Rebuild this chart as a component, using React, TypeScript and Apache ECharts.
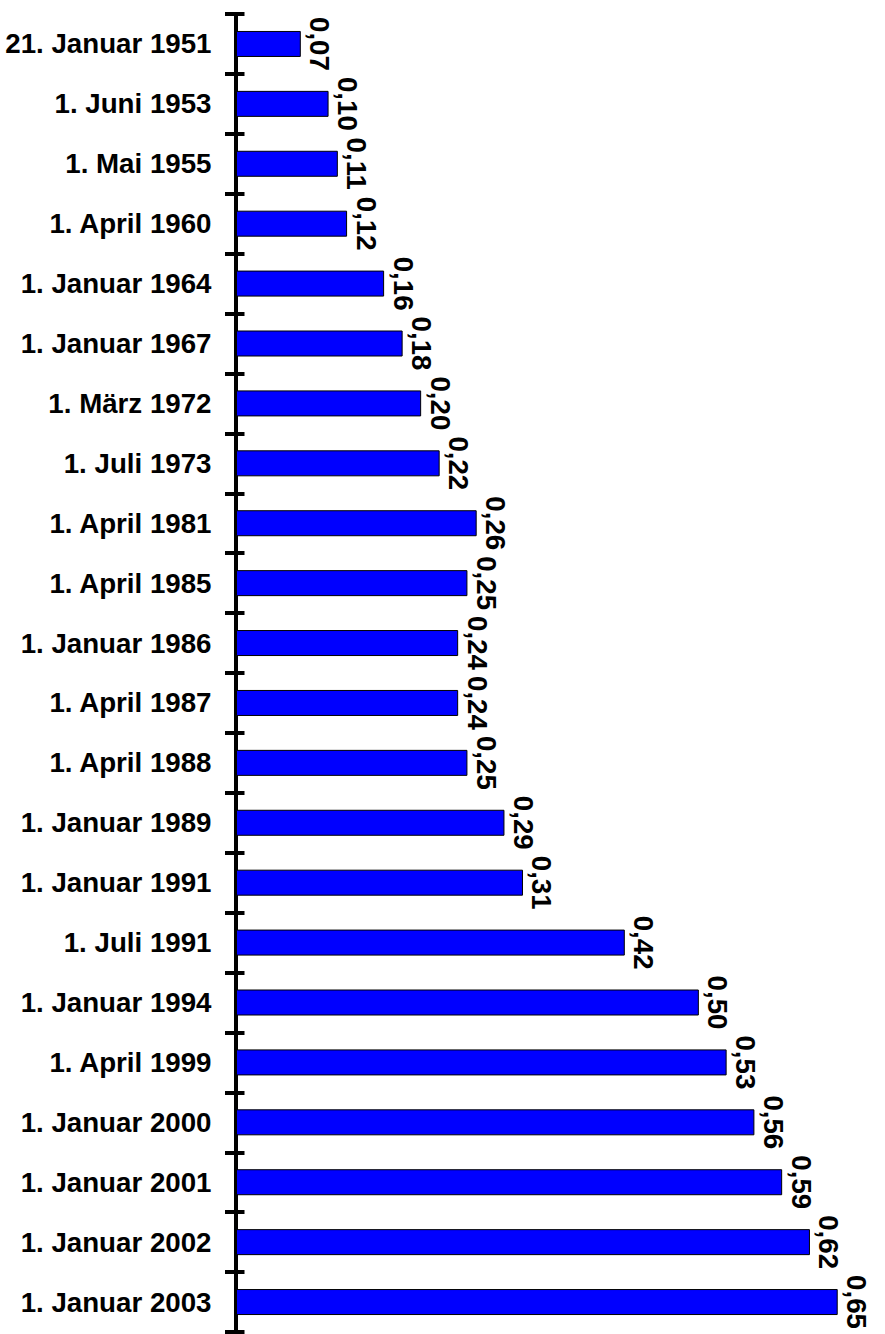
import React, { useEffect, useRef } from "react";
import * as echarts from "echarts";

const categories = [
  "21. Januar 1951",
  "1. Juni 1953",
  "1. Mai 1955",
  "1. April 1960",
  "1. Januar 1964",
  "1. Januar 1967",
  "1. März 1972",
  "1. Juli 1973",
  "1. April 1981",
  "1. April 1985",
  "1. Januar 1986",
  "1. April 1987",
  "1. April 1988",
  "1. Januar 1989",
  "1. Januar 1991",
  "1. Juli 1991",
  "1. Januar 1994",
  "1. April 1999",
  "1. Januar 2000",
  "1. Januar 2001",
  "1. Januar 2002",
  "1. Januar 2003",
];

const values = [
  0.07, 0.1, 0.11, 0.12, 0.16, 0.18, 0.2, 0.22, 0.26, 0.25, 0.24, 0.24, 0.25,
  0.29, 0.31, 0.42, 0.5, 0.53, 0.56, 0.59, 0.62, 0.65,
];

const FONT = "'Liberation Sans', Arial, Helvetica, sans-serif";

export default function App() {
  const ref = useRef<HTMLDivElement>(null);
  useEffect(() => {
    if (!ref.current) return;
    const chart = echarts.init(ref.current, null, { renderer: "svg" });
    const tickStyle = { color: "#000", width: 4 };
    chart.setOption({
      animation: false,
      backgroundColor: "#fff",
      grid: { left: 236, right: 1, top: 14, bottom: 2, containLabel: false },
      xAxis: {
        type: "value",
        min: 0,
        max: 0.7,
        show: false,
      },
      yAxis: [
        {
          type: "category",
          data: categories,
          inverse: true,
          offset: 2.5,
          axisLine: { show: true, lineStyle: { color: "#000", width: 4 } },
          axisTick: { show: true, length: 11, lineStyle: tickStyle },
          axisLabel: {
            fontSize: 27.7,
            fontWeight: "bold",
            color: "#000",
            fontFamily: FONT,
            margin: 22,
          },
          splitLine: { show: false },
        },
        {
          type: "category",
          data: categories,
          inverse: true,
          position: "left",
          offset: 2.5,
          axisLine: { show: false },
          axisTick: { show: true, inside: true, length: 11, lineStyle: tickStyle },
          axisLabel: { show: false },
          splitLine: { show: false },
        },
      ],
      series: [
        {
          type: "bar",
          yAxisIndex: 0,
          data: values,
          barWidth: 26,
          itemStyle: { color: "#0000ff", borderColor: "#000", borderWidth: 1 },
          label: {
            show: true,
            position: "right",
            distance: 5,
            rotate: -90,
            align: "center",
            verticalAlign: "bottom",
            fontSize: 27.7,
            fontWeight: "bold",
            color: "#000",
            fontFamily: FONT,
            formatter: (p: any) => Number(p.value).toFixed(2).replace(".", ","),
          },
        },
      ],
    });
    return () => chart.dispose();
  }, []);
  return (
    <div
      ref={ref}
      style={{ position: "absolute", left: 0, top: 0, width: 885, height: 1334 }}
    />
  );
}
